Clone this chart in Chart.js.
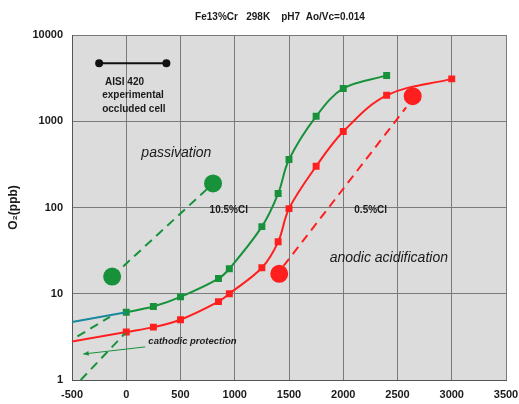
<!DOCTYPE html>
<html>
<head>
<meta charset="utf-8">
<script src="https://cdn.jsdelivr.net/npm/chart.js@4/dist/chart.umd.min.js"></script>
<style>
  html, body { margin: 0; padding: 0; background: #fff; }
  #wrap { width: 519px; height: 404px; }
</style>
</head>
<body>
<div id="wrap"><canvas id="c" width="519" height="404"></canvas></div>
<script>
// potential (x) and O2 (ppb) values
var xGreen = [0, 250, 500, 850, 950, 1250, 1400, 1500, 1750, 2000, 2400];
var yGreen = [6.1, 7.1, 9.2, 15, 19.5, 60, 145, 360, 1140, 2400, 3400];
var xRed = [0, 250, 500, 850, 950, 1250, 1400, 1500, 1750, 2000, 2400, 3000];
var yRed = [3.6, 4.1, 5.0, 8.1, 10, 20, 40, 97, 300, 760, 2000, 3100];

var xTeal = [-500, 0];
var yTeal = [4.7, 6.1];
var xRedExt = [-500, 0];
var yRedExt = [2.8, 3.6];

var xGreenDash1 = [-130, 800];
var yGreenDash1 = [15.8, 190];
var xGreenDash2 = [-450, -150];
var yGreenDash2 = [3.2, 5.4];
var xGreenDash3 = [-420, 0];
var yGreenDash3 = [1.0, 3.6];
var xRedDash = [1450, 2580];
var yRedDash = [21, 1450];

var xGreenDots = [-130, 800];
var yGreenDots = [15.8, 190];
var xRedDots = [1410, 2640];
var yRedDots = [17, 1950];

var xKey = [-250, 370];
var yKey = [4700, 4700];

var xTicks = [-500, 0, 500, 1000, 1500, 2000, 2500, 3000, 3500];
var yTicks = [1, 10, 100, 1000, 10000];

var GREEN = '#17923b';
var RED = '#ff1f1f';
var TEAL = '#16899b';

function pts(xs, ys)
{
  var out = [];
  for (var i = 0; i < xs.length; i++) out.push({x: xs[i], y: ys[i]});
  return out;
}

function line(xs, ys, color, opts)
{
  var d = {
    type: 'line',
    data: pts(xs, ys),
    borderColor: color,
    backgroundColor: color,
    borderWidth: 2,
    pointRadius: 0,
    pointStyle: 'rect',
    tension: 0,
    fill: false
  };
  for (var k in opts) d[k] = opts[k];
  return d;
}

var bgPlugin = {
  id: 'bg',
  beforeDraw: function(chart)
  {
    var a = chart.chartArea, ctx = chart.ctx;
    ctx.save();
    ctx.fillStyle = '#dcdcdc';
    ctx.fillRect(a.left, a.top, a.right - a.left, a.bottom - a.top);
    ctx.restore();
  }
};

var textPlugin = {
  id: 'texts',
  afterDatasetsDraw: function(chart)
  {
    var ctx = chart.ctx;
    var sx = chart.scales.x, sy = chart.scales.y;
    function put(txt, x, y, font, align)
    {
      ctx.font = font;
      ctx.textAlign = align || 'center';
      ctx.textBaseline = 'middle';
      ctx.fillStyle = '#1a1a1a';
      ctx.fillText(txt, sx.getPixelForValue(x), sy.getPixelForValue(y));
    }
    ctx.save();
    put('passivation', 462, 425, 'italic 14px "Liberation Sans", Arial');
    put('anodic acidification', 2420, 26, 'italic 14px "Liberation Sans", Arial');
    put('10.5%Cl', 945, 92, 'bold 10px "Liberation Sans", Arial');
    put('0.5%Cl', 2253, 92, 'bold 10px "Liberation Sans", Arial');
    put('cathodic protection', 610, 2.77, 'italic bold 9.5px "Liberation Sans", Arial');
    put('AISI 420', -195, 2840, 'bold 10px "Liberation Sans", Arial', 'left');
    put('experimental', -222, 2005, 'bold 10px "Liberation Sans", Arial', 'left');
    put('occluded cell', -222, 1380, 'bold 10px "Liberation Sans", Arial', 'left');

    // arrow for cathodic protection
    var x1 = sx.getPixelForValue(175), y1 = sy.getPixelForValue(2.42);
    var x2 = sx.getPixelForValue(-397), y2 = sy.getPixelForValue(2.0);
    ctx.strokeStyle = GREEN;
    ctx.fillStyle = GREEN;
    ctx.lineWidth = 1;
    ctx.beginPath();
    ctx.moveTo(x1, y1);
    ctx.lineTo(x2, y2);
    ctx.stroke();
    var ang = Math.atan2(y2 - y1, x2 - x1);
    ctx.beginPath();
    ctx.moveTo(x2, y2);
    ctx.lineTo(x2 - 6 * Math.cos(ang - 0.4), y2 - 6 * Math.sin(ang - 0.4));
    ctx.lineTo(x2 - 6 * Math.cos(ang + 0.4), y2 - 6 * Math.sin(ang + 0.4));
    ctx.closePath();
    ctx.fill();

    // title
    ctx.font = 'bold 10px "Liberation Sans", Arial';
    ctx.textAlign = 'center';
    ctx.textBaseline = 'middle';
    ctx.fillStyle = '#1a1a1a';
    ctx.fillText('Fe13%Cr   298K    pH7  Ao/Vc=0.014', 280, 17);
    ctx.restore();
  }
};

var datasets = [
  line(xTeal, yTeal, TEAL, {}),
  line(xRedExt, yRedExt, RED, {}),
  line(xGreenDash1, yGreenDash1, GREEN, {borderDash: [9, 6], borderWidth: 2}),
  line(xGreenDash2, yGreenDash2, GREEN, {borderDash: [9, 6], borderWidth: 2}),
  line(xGreenDash3, yGreenDash3, GREEN, {borderDash: [9, 6], borderWidth: 2}),
  line(xRedDash, yRedDash, RED, {borderDash: [9, 6], borderWidth: 2}),
  line(xGreen, yGreen, GREEN, {pointRadius: 3.5, tension: 0.35}),
  line(xRed, yRed, RED, {pointRadius: 3.5, tension: 0.35}),
  line(xKey, yKey, '#111', {pointRadius: 3, pointStyle: 'circle'}),
  line(xGreenDots, yGreenDots, GREEN, {showLine: false, pointRadius: 8, pointStyle: 'circle'}),
  line(xRedDots, yRedDots, RED, {showLine: false, pointRadius: 8, pointStyle: 'circle'})
];

new Chart(document.getElementById('c'), {
  type: 'line',
  data: { datasets: datasets },
  options: {
    responsive: false,
    animation: false,
    layout: { padding: { top: 35, right: 13, left: 0, bottom: 0 } },
    plugins: { legend: { display: false }, tooltip: { enabled: false } },
    scales: {
      x: {
        type: 'linear',
        min: -500,
        max: 3500,
        afterBuildTicks: function(s) { s.ticks = xTicks.map(function(v) { return {value: v}; }); },
        afterFit: function(s) { s.height = 24; s.paddingLeft = 0; s.paddingRight = 0; },
        grid: { color: '#7a7a7a', lineWidth: 1, drawTicks: false },
        border: { color: '#555' },
        ticks: { color: '#1a1a1a', padding: 8, maxRotation: 0,
                 font: { family: '"Liberation Sans", Arial', size: 11, weight: 'bold' },
                 callback: function(v) { return String(v); } }
      },
      y: {
        type: 'logarithmic',
        min: 1,
        max: 10000,
        afterBuildTicks: function(s) { s.ticks = yTicks.map(function(v) { return {value: v}; }); },
        afterFit: function(s) { s.width = 72; },
        grid: { color: '#7a7a7a', lineWidth: 1, drawTicks: false },
        border: { color: '#555' },
        ticks: { color: '#1a1a1a', padding: 9,
                 font: { family: '"Liberation Sans", Arial', size: 11, weight: 'bold' },
                 callback: function(v) { return String(v); } },
        title: { display: true, text: 'O₂(ppb)', color: '#1a1a1a', padding: { top: 6, bottom: 0 },
                 font: { family: '"Liberation Sans", Arial', size: 12, weight: 'bold' } }
      }
    }
  },
  plugins: [bgPlugin, textPlugin]
});
</script>
</body>
</html>
